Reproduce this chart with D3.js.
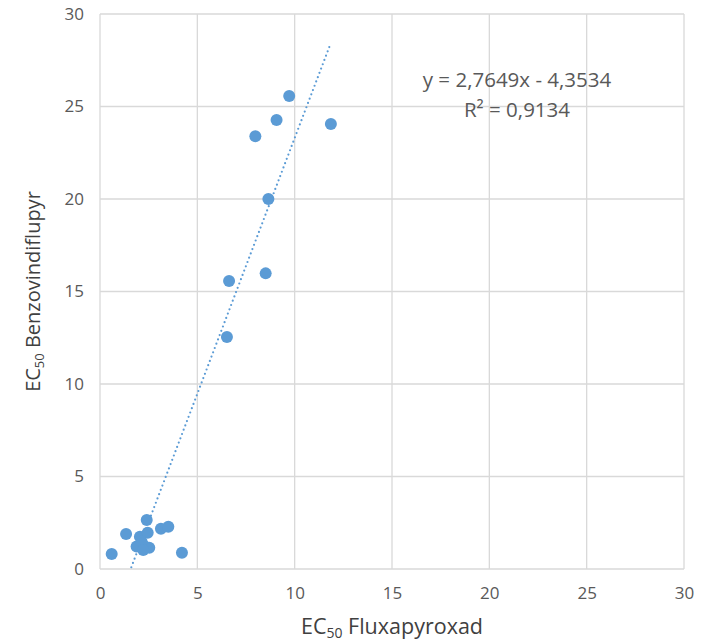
<!DOCTYPE html>
<html>
<head>
<meta charset="utf-8">
<title>EC50 scatter</title>
<script src="https://d3js.org/d3.v7.min.js"></script>
<style>
body { margin: 0; background: #fff; font-family: 'Open Sans', sans-serif; }
.grid line { stroke: #d9d9d9; stroke-width: 1.3; }
.tick text { fill: #595959; font-size: 17px; font-family: 'Open Sans', sans-serif; }
</style>
</head>
<body>
<script>
// data
var fluxapyroxad = [0.60, 1.34, 2.40, 4.21, 3.13, 3.51, 2.05, 2.45, 1.88, 2.31, 2.53, 2.14, 2.22,
  9.72, 9.07, 7.98, 11.86, 8.65, 6.63, 8.51, 6.52];
var benzovindiflupyr = [0.81, 1.89, 2.65, 0.88, 2.18, 2.29, 1.75, 1.96, 1.21, 1.21, 1.15, 1.48, 1.03,
  25.57, 24.27, 23.39, 24.05, 20.0, 15.57, 15.98, 12.54];
var xTicks = [0, 5, 10, 15, 20, 25, 30];
var yTicks = [0, 5, 10, 15, 20, 25, 30];
var slope = 2.7649, intercept = -4.3534;
var eqLabel = "y = 2,7649x - 4,3534";
var r2Label = "R² = 0,9134";

var w = 707, h = 643;
var m = {left: 100, top: 14, right: 23, bottom: 74};
var svg = d3.select("body").append("svg").attr("width", w).attr("height", h);

var x = d3.scaleLinear().domain([0, 30]).range([m.left, w - m.right]);
var y = d3.scaleLinear().domain([0, 30]).range([h - m.bottom, m.top]);

// gridlines
var grid = svg.append("g").attr("class", "grid");
grid.selectAll(".vx").data(xTicks).enter().append("line")
  .attr("x1", d => x(d)).attr("x2", d => x(d))
  .attr("y1", y(0)).attr("y2", y(30));
grid.selectAll(".hy").data(yTicks).enter().append("line")
  .attr("y1", d => y(d)).attr("y2", d => y(d))
  .attr("x1", x(0)).attr("x2", x(30));

// axes (labels only)
svg.append("g").attr("transform", "translate(0," + y(0) + ")")
  .call(d3.axisBottom(x).tickValues(xTicks).tickSize(0).tickPadding(18))
  .call(g => g.select(".domain").remove());
svg.append("g").attr("transform", "translate(" + x(0) + ",0)")
  .call(d3.axisLeft(y).tickValues(yTicks).tickSize(0).tickPadding(16))
  .call(g => g.select(".domain").remove());

// trendline, clipped to plot area
svg.append("clipPath").attr("id", "plotclip").append("rect")
  .attr("x", x(0)).attr("y", y(30)).attr("width", x(30) - x(0)).attr("height", y(0) - y(30));
var x0 = d3.min(fluxapyroxad), x1 = d3.max(fluxapyroxad);
svg.append("line")
  .attr("clip-path", "url(#plotclip)")
  .attr("x1", x(x0)).attr("y1", y(slope * x0 + intercept))
  .attr("x2", x(x1)).attr("y2", y(slope * x1 + intercept))
  .attr("stroke", "#5b9bd5").attr("stroke-width", 2.2)
  .attr("stroke-linecap", "round").attr("stroke-dasharray", "0,4.6");

// points
svg.append("g").selectAll("circle")
  .data(fluxapyroxad.map((d, i) => [d, benzovindiflupyr[i]]))
  .enter().append("circle")
  .attr("cx", d => x(d[0])).attr("cy", d => y(d[1]))
  .attr("r", 6).attr("fill", "#5b9bd5");

// equation
svg.append("text").attr("x", 517).attr("y", 87).attr("text-anchor", "middle")
  .attr("font-size", 20.5).attr("fill", "#595959").text(eqLabel);
svg.append("text").attr("x", 517).attr("y", 117).attr("text-anchor", "middle")
  .attr("font-size", 20.5).attr("fill", "#595959").text(r2Label);

// axis titles
var xt = svg.append("text").attr("x", (x(0) + x(30)) / 2).attr("y", 634)
  .attr("text-anchor", "middle").attr("font-size", 21.5).attr("fill", "#404040");
xt.append("tspan").text("EC");
xt.append("tspan").attr("font-size", 14).attr("dy", 4).text("50");
xt.append("tspan").attr("dy", -4).text(" Fluxapyroxad");

var yt = svg.append("text").attr("transform", "translate(40," + ((y(0) + y(30)) / 2) + ") rotate(-90)")
  .attr("text-anchor", "middle").attr("font-size", 20).attr("fill", "#404040");
yt.append("tspan").text("EC");
yt.append("tspan").attr("font-size", 13).attr("dy", 4).text("50");
yt.append("tspan").attr("dy", -4).text(" Benzovindiflupyr");
</script>
</body>
</html>
